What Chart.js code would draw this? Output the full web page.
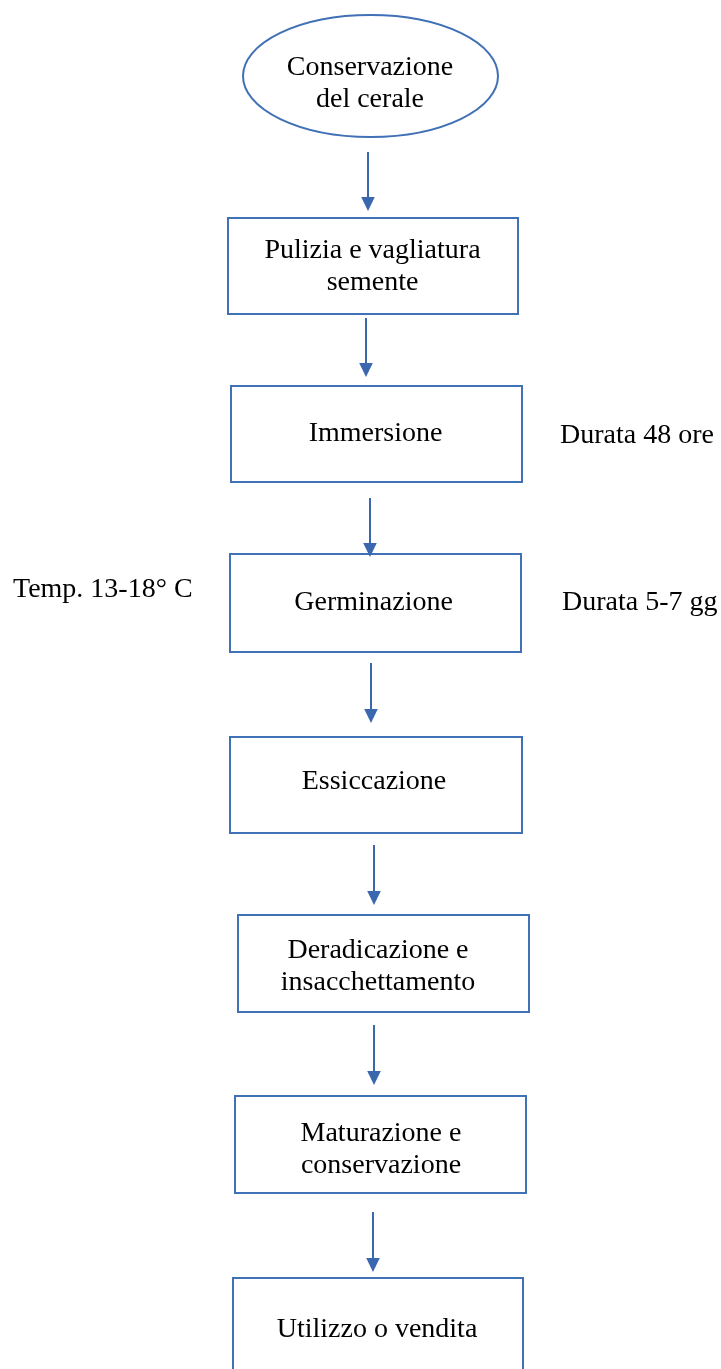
<!DOCTYPE html>
<html>
<head>
<meta charset="utf-8">
<script src="https://cdn.jsdelivr.net/npm/chart.js@4/dist/chart.umd.min.js"></script>
<style>
html,body{margin:0;padding:0;background:#fff;}
canvas{display:block;}
</style>
</head>
<body>
<canvas id="flow" width="721" height="1369"></canvas>
<script>
// steps of the process, top to bottom
const steps = [
  ["Conservazione", "del cerale"],
  ["Pulizia e vagliatura", "semente"],
  ["Immersione"],
  ["Germinazione"],
  ["Essiccazione"],
  ["Deradicazione e", "insacchettamento"],
  ["Maturazione e", "conservazione"],
  ["Utilizzo o vendita"]
];
// node extents in page units (y grows downward)
const stepLeft   = [243, 228, 231, 230, 230, 238, 235, 233];
const stepRight  = [498, 518, 522, 521, 522, 529, 526, 523];
const stepTop    = [15, 218, 386, 554, 737, 915, 1096, 1278];
const stepBottom = [137, 314, 482, 652, 833, 1012, 1193, 1380];
const stepTextX  = [370, 372.5, 375.5, 373.6, 374, 378, 381, 377];
const stepTextY  = [75, 258, 441, 610, 789, 958, 1141, 1337];

// connectors between steps
const arrowX    = [368, 366, 370, 371, 374, 374, 373];
const arrowFrom = [152, 318, 498, 663, 845, 1025, 1212];
const arrowTo   = [211, 377, 557, 723, 905, 1085, 1272];

// side notes
const notes     = ["Durata 48 ore", "Temp. 13-18° C", "Durata 5-7 gg"];
const noteX     = [560, 13, 562];
const noteY     = [443, 597, 610];

const boxColor = "#4070B5";
const arrowColor = "#3A67AD";
const font = '28px "Liberation Serif", "Times New Roman", serif';

const flowPlugin = {
  id: "flow",
  afterDatasetsDraw(chart){
    const ctx = chart.ctx;
    const sx = chart.scales.x;
    const sy = chart.scales.y;
    ctx.save();

    // boxes
    ctx.strokeStyle = boxColor;
    ctx.lineWidth = 2;
    for(let i = 0; i < steps.length; i++){
      const l = sx.getPixelForValue(stepLeft[i]);
      const r = sx.getPixelForValue(stepRight[i]);
      const t = sy.getPixelForValue(stepTop[i]);
      const b = sy.getPixelForValue(stepBottom[i]);
      ctx.beginPath();
      if(i == 0){
        ctx.ellipse((l+r)/2, (t+b)/2, (r-l)/2, (b-t)/2, 0, 0, Math.PI*2);
      }else{
        ctx.rect(l, t, r-l, b-t);
      }
      ctx.stroke();
    }

    // arrows
    ctx.strokeStyle = arrowColor;
    ctx.fillStyle = arrowColor;
    ctx.lineWidth = 2;
    for(let i = 0; i < arrowX.length; i++){
      const x = sx.getPixelForValue(arrowX[i]);
      const y0 = sy.getPixelForValue(arrowFrom[i]);
      const y1 = sy.getPixelForValue(arrowTo[i]);
      ctx.beginPath();
      ctx.moveTo(x, y0);
      ctx.lineTo(x, y1 - 11);
      ctx.stroke();
      ctx.beginPath();
      ctx.moveTo(x - 6.8, y1 - 14);
      ctx.lineTo(x + 6.8, y1 - 14);
      ctx.lineTo(x, y1);
      ctx.closePath();
      ctx.fill();
    }

    // labels
    ctx.fillStyle = "#000";
    ctx.font = font;
    ctx.textBaseline = "alphabetic";
    ctx.textAlign = "center";
    for(let i = 0; i < steps.length; i++){
      steps[i].forEach((line, k)=>{
        ctx.fillText(line, sx.getPixelForValue(stepTextX[i]), sy.getPixelForValue(stepTextY[i] + k*32));
      });
    }
    ctx.textAlign = "left";
    for(let i = 0; i < notes.length; i++){
      ctx.fillText(notes[i], sx.getPixelForValue(noteX[i]), sy.getPixelForValue(noteY[i]));
    }
    ctx.restore();
  }
};

new Chart(document.getElementById("flow"), {
  type: "scatter",
  data: {
    datasets: [{
      label: "steps",
      data: steps.map((s, i)=>({x: (stepLeft[i]+stepRight[i])/2, y: (stepTop[i]+stepBottom[i])/2})),
      pointRadius: 0,
      showLine: false
    }]
  },
  options: {
    responsive: false,
    animation: false,
    events: [],
    layout: { padding: 0 },
    plugins: { legend: { display: false }, tooltip: { enabled: false } },
    scales: {
      x: { type: "linear", min: 0, max: 721, display: false },
      y: { type: "linear", min: 0, max: 1369, reverse: true, display: false }
    }
  },
  plugins: [flowPlugin]
});
</script>
</body>
</html>
